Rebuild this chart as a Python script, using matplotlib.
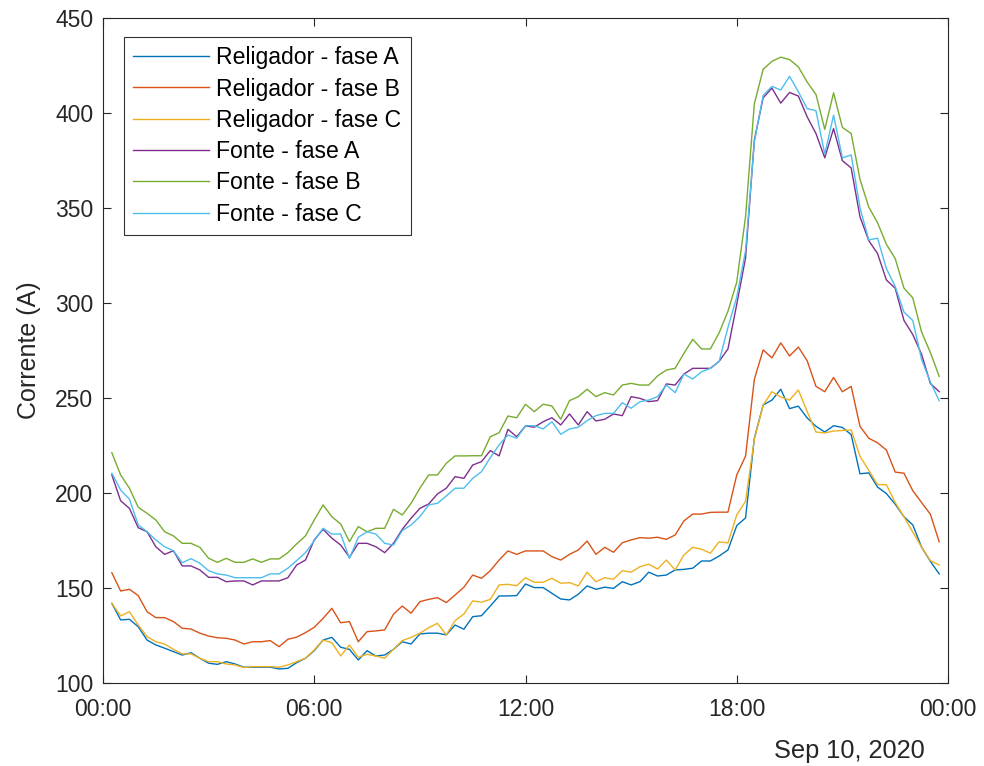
"""Correntes do religador e da fonte ao longo de 10/09/2020 (amostras de 15 min)."""

import matplotlib
matplotlib.use("Agg")
import matplotlib.pyplot as plt
import matplotlib.dates as mdates
import pandas as pd

plt.rcParams["font.family"] = ["Liberation Sans", "DejaVu Sans"]

# amostras de 15 em 15 minutos, 00:15 a 23:45
times = pd.date_range("2020-09-10 00:15", periods=95, freq="15min")

religador_a = [
    141.9, 133.2, 133.5, 129.6, 122.6, 120.0, 118.3, 116.5, 114.7, 115.9, 113.0, 110.4, 109.8, 111.2,
    110.0, 108.3, 108.3, 108.3, 108.3, 107.4, 107.7, 110.7, 113.0, 117.0, 122.6, 124.0, 118.8, 117.7,
    112.1, 117.0, 114.2, 114.7, 117.7, 121.7, 120.5, 125.8, 126.2, 126.2, 125.3, 130.5, 128.3,
    134.9, 135.4, 140.5, 145.8, 145.8, 146.0, 152.1, 150.2, 150.2, 147.2, 144.2, 143.7, 146.7, 151.1,
    149.3, 150.4, 149.8, 153.3, 151.6, 153.3, 158.3, 156.3, 156.8, 159.5, 159.8, 160.4, 164.2, 164.2,
    166.8, 170.0, 182.8, 186.9, 228.8, 246.3, 248.9, 254.6, 244.4, 245.7, 239.5, 235.1, 232.1,
    235.4, 234.5, 230.7, 210.1, 210.6, 203.1, 199.7, 194.1, 187.5, 183.2, 171.5, 164.0, 157.4,
]
religador_b = [
    158.0, 148.4, 149.3, 146.0, 137.5, 134.4, 134.4, 132.3, 128.8, 128.4, 126.2, 124.7, 123.8, 123.5,
    122.6, 120.5, 121.7, 121.7, 122.3, 119.1, 123.0, 124.1, 126.5, 129.3, 134.0, 139.3, 131.7, 132.3,
    121.7, 127.0, 127.4, 127.9, 136.2, 140.5, 136.7, 142.8, 144.0, 144.9, 142.3, 146.3, 150.4,
    156.8, 155.1, 159.1, 164.7, 169.5, 167.7, 169.5, 169.5, 169.5, 166.5, 164.7, 167.7, 170.0, 174.7,
    167.7, 171.4, 168.8, 173.8, 175.3, 176.5, 176.2, 176.7, 175.6, 177.9, 185.3, 188.9, 188.9, 189.8,
    189.9, 189.9, 209.5, 219.4, 259.8, 275.3, 271.1, 279.0, 272.1, 276.8, 269.6, 256.1, 253.3,
    260.8, 253.3, 256.1, 235.1, 228.8, 226.4, 222.6, 211.0, 210.4, 201.2, 195.0, 188.8, 174.3,
]
religador_c = [
    141.9, 135.3, 137.5, 130.5, 124.4, 121.7, 120.5, 117.7, 115.3, 115.3, 113.0, 111.2, 111.2, 110.0,
    109.5, 108.1, 108.6, 108.6, 108.6, 108.3, 109.5, 111.2, 113.0, 117.4, 122.6, 121.2, 114.2, 120.0,
    113.5, 115.1, 114.2, 113.0, 117.7, 122.3, 124.0, 126.2, 129.1, 131.4, 125.3, 132.8, 136.3,
    143.2, 142.5, 144.0, 151.6, 151.9, 151.2, 155.4, 153.0, 153.0, 155.1, 152.5, 152.8, 151.1, 158.3,
    153.3, 155.4, 154.6, 159.1, 158.3, 161.2, 162.5, 160.0, 164.7, 159.5, 167.4, 171.4, 170.4, 168.3,
    174.3, 173.7, 188.4, 195.6, 228.3, 246.3, 253.3, 250.5, 248.9, 254.2, 242.9, 232.1, 231.6,
    232.6, 232.9, 233.2, 219.4, 211.9, 204.4, 204.4, 195.0, 187.5, 179.4, 171.5, 164.4, 162.1,
]
fonte_a = [
    209.5, 195.9, 191.9, 181.7, 179.6, 171.7, 167.7, 169.6, 161.6, 161.6, 159.5, 155.6, 155.6, 153.3,
    153.7, 153.7, 151.6, 153.7, 153.7, 153.7, 155.4, 162.1, 164.7, 175.3, 180.9, 176.2, 172.6, 166.2,
    173.5, 173.5, 171.7, 168.6, 173.5, 180.9, 186.7, 191.9, 194.2, 199.5, 202.5, 208.6, 207.7,
    214.7, 216.5, 222.3, 219.5, 233.5, 229.6, 235.3, 234.6, 237.5, 239.6, 235.8, 241.6, 235.8, 242.8,
    237.9, 238.8, 241.6, 240.7, 250.7, 249.8, 248.1, 248.6, 257.4, 256.8, 262.6, 265.6, 265.6, 265.6,
    269.3, 275.8, 299.3, 323.7, 385.8, 408.0, 413.1, 405.2, 410.8, 408.9, 398.0, 389.2, 376.4,
    391.8, 374.9, 371.1, 345.4, 332.8, 326.0, 312.1, 307.8, 290.8, 283.4, 273.0, 257.6, 253.3,
]
fonte_b = [
    221.2, 209.5, 202.5, 192.5, 189.3, 185.8, 179.6, 177.4, 173.5, 173.5, 171.4, 165.6, 163.5, 165.6,
    163.5, 163.5, 165.3, 163.5, 165.3, 165.3, 168.6, 173.2, 177.4, 185.8, 193.7, 187.5, 183.7, 174.4,
    182.3, 179.6, 181.4, 181.4, 191.4, 188.4, 194.6, 202.5, 209.5, 209.5, 215.6, 219.5, 219.5,
    219.6, 219.6, 229.6, 231.7, 240.5, 239.6, 246.7, 242.8, 246.7, 245.8, 238.8, 248.6, 250.7, 254.6,
    250.7, 252.8, 251.6, 256.8, 257.7, 256.8, 256.8, 261.6, 264.7, 265.6, 273.5, 280.9, 275.8, 275.8,
    284.3, 295.6, 311.0, 345.4, 404.9, 423.0, 427.2, 429.4, 428.1, 424.3, 416.3, 409.8, 391.4,
    410.6, 392.4, 389.2, 365.1, 350.5, 342.2, 330.9, 323.4, 307.8, 302.7, 284.7, 273.9, 261.4,
]
fonte_c = [
    210.4, 201.6, 196.7, 183.2, 179.6, 175.3, 171.7, 169.6, 163.3, 165.4, 163.0, 159.1, 157.4, 156.8,
    155.4, 155.4, 155.4, 155.4, 157.4, 157.4, 160.4, 164.4, 168.6, 174.9, 181.4, 178.4, 178.4, 165.6,
    176.7, 179.6, 178.4, 173.5, 172.6, 180.2, 183.2, 187.5, 193.7, 194.6, 198.4, 202.5, 202.5,
    207.7, 211.2, 218.6, 225.3, 230.5, 228.8, 235.4, 235.4, 233.7, 237.5, 230.9, 233.7, 234.6, 238.1,
    240.7, 241.9, 241.9, 247.5, 244.6, 248.0, 248.9, 250.7, 256.8, 252.8, 262.6, 260.0, 263.8, 265.6,
    269.3, 287.1, 303.1, 327.5, 384.8, 409.3, 414.0, 412.1, 419.3, 411.2, 402.3, 401.2, 378.3,
    398.9, 376.4, 377.9, 350.1, 333.2, 334.1, 318.1, 308.7, 295.2, 290.8, 270.2, 258.4, 248.6,
]

labels = [
    "Religador - fase A", "Religador - fase B", "Religador - fase C",
    "Fonte - fase A", "Fonte - fase B", "Fonte - fase C",
]
# cores padrao do MATLAB
colors = ["#0072BD", "#D95319", "#EDB120", "#7E2F8E", "#77AC30", "#4DBEEE"]
series = [religador_a, religador_b, religador_c, fonte_a, fonte_b, fonte_c]

fig = plt.figure(figsize=(9.84, 7.66), dpi=100)
ax = fig.add_axes([0.1047, 0.1084, 0.8587, 0.8681])

for vals, lab, col in zip(series, labels, colors):
    ax.plot(times, vals, color=col, linewidth=1.0, label=lab)

ax.set_xlim(pd.Timestamp("2020-09-10 00:00"), pd.Timestamp("2020-09-11 00:00"))
ax.set_ylim(100, 450)
ax.set_yticks(range(100, 451, 50))
ax.xaxis.set_major_locator(mdates.HourLocator(byhour=[0, 6, 12, 18]))
ax.xaxis.set_major_formatter(mdates.DateFormatter("%H:%M"))

ax.set_ylabel("Corrente (A)", fontsize=18, color="#262626", labelpad=10)
ax.tick_params(direction="in", top=True, right=True, length=6, width=0.8,
               labelsize=16.5, colors="#262626")
ax.tick_params(axis="x", pad=11)
ax.tick_params(axis="y", pad=7)
for sp in ax.spines.values():
    sp.set_color("#262626")
    sp.set_linewidth(0.8)

ax.text(0.973, -0.085, "Sep 10, 2020", transform=ax.transAxes, ha="right", va="top",
        fontsize=18.3, color="#262626")

leg = ax.legend(loc="upper left", bbox_to_anchor=(0.0249, 0.9714), borderaxespad=0,
                fontsize=16.6, frameon=True, fancybox=False, handlelength=3.3,
                handletextpad=0.3, labelspacing=0.36, borderpad=0.4)
leg.get_frame().set_edgecolor("black")
leg.get_frame().set_linewidth(0.8)

fig.savefig("out.png", dpi=100)
plt.close(fig)
